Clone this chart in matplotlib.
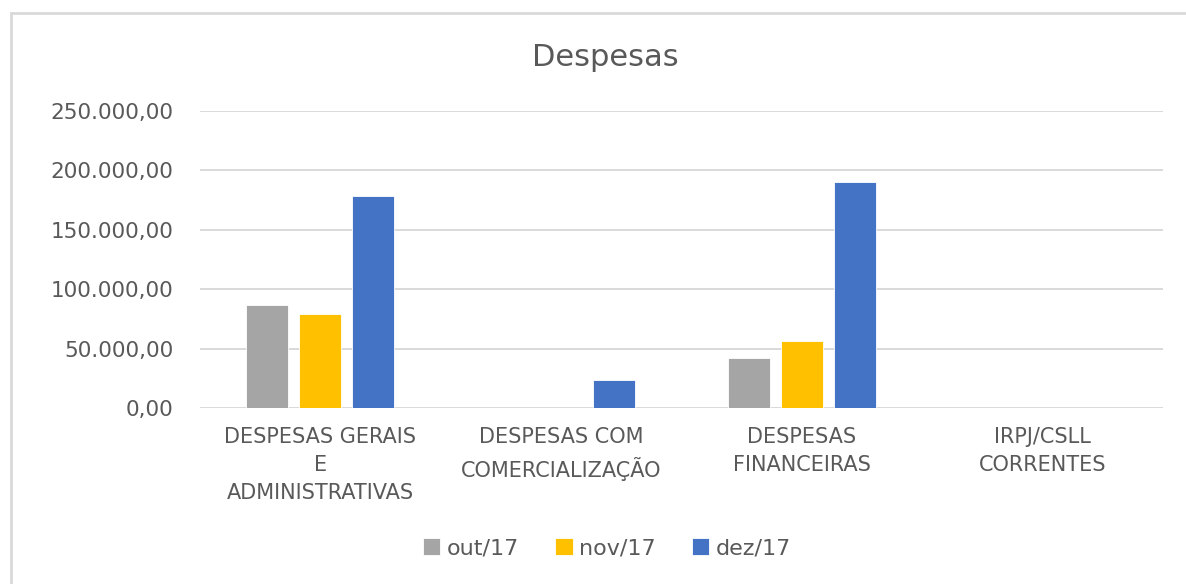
import numpy as np
import matplotlib
matplotlib.use('Agg')
import matplotlib.pyplot as plt
from matplotlib.ticker import FuncFormatter
from matplotlib.patches import Rectangle

categorias = ['DESPESAS GERAIS\nE\nADMINISTRATIVAS', 'DESPESAS COM\nCOMERCIALIZAÇÃO',
              'DESPESAS\nFINANCEIRAS', 'IRPJ/CSLL\nCORRENTES']
meses = ['out/17', 'nov/17', 'dez/17']
out17 = [86600, 0, 41700, 0]
nov17 = [79300, 0, 56800, 0]
dez17 = [178500, 23400, 190300, 0]
cores = ['#A5A5A5', '#FFC000', '#4472C4']

texto = '#595959'
plt.rcParams['font.family'] = ['DejaVu Sans']

def brl(v, pos):
    s = '{:,.2f}'.format(v)
    return s.replace(',', 'X').replace('.', ',').replace('X', '.')

fig = plt.figure(figsize=(11.86, 5.84), dpi=100)
ax = fig.add_axes([200/1186, (584-408)/584, 963/1186, 297/584])

x = np.arange(len(categorias))
largura = 0.174
passo = 0.22
for i, (serie, nome) in enumerate(zip([out17, nov17, dez17], meses)):
    ax.bar(x + (i-1)*passo, serie, largura, color=cores[i], label=nome,
           edgecolor='white', linewidth=0.6, zorder=3)

ax.set_xlim(-0.5, len(categorias)-0.5)
ax.set_ylim(0, 250000)
ax.set_yticks(np.arange(0, 250001, 50000))
ax.yaxis.set_major_formatter(FuncFormatter(brl))
ax.set_xticks(x)
ax.set_xticklabels(categorias, linespacing=1.5)
ax.grid(axis='y', color='#D9D9D9', linewidth=1.4, zorder=0)
for s in ax.spines.values():
    s.set_visible(False)
ax.tick_params(axis='y', length=0, pad=19, labelsize=15.5, labelcolor=texto)
ax.tick_params(axis='x', length=0, pad=14, labelsize=15, labelcolor=texto)

fig.text(605/1186, 1-58/584, 'Despesas', ha='center', va='center',
         fontsize=22, color=texto)

fig.legend(loc='center', bbox_to_anchor=(607/1186, 1-548/584), ncol=3,
           frameon=False, fontsize=16, labelcolor=texto, handlelength=0.8,
           handleheight=0.8, handletextpad=0.3, columnspacing=1.6)

# moldura do gráfico
fig.patches.append(Rectangle((11/1186, -0.1), 1.2, 1.1 - 13.5/584, transform=fig.transFigure,
                             fill=False, edgecolor='#D9D9D9', linewidth=2))

fig.savefig('out.png', dpi=100)
